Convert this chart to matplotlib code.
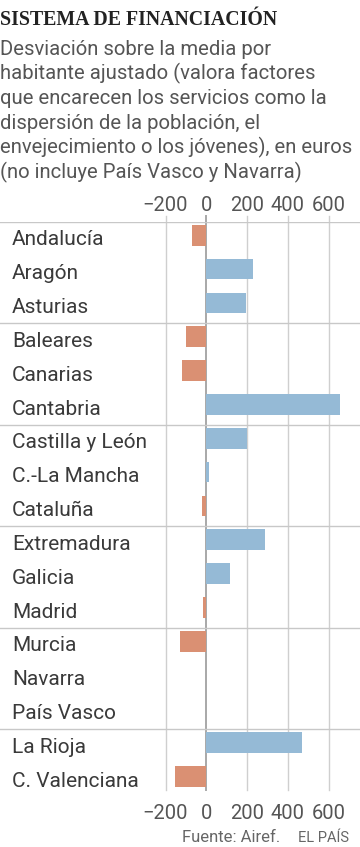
import matplotlib
matplotlib.use("Agg")
import matplotlib.pyplot as plt
import matplotlib.transforms as mtransforms
import numpy as np

regions = ["Andalucía", "Aragón", "Asturias", "Baleares", "Canarias", "Cantabria",
           "Castilla y León", "C.-La Mancha", "Cataluña", "Extremadura", "Galicia",
           "Madrid", "Murcia", "Navarra", "País Vasco", "La Rioja", "C. Valenciana"]
values = [-72, 231, 193, -98, -118, 656, 198, 13, -20, 288, 115, -15, -128,
          np.nan, np.nan, 470, -154]
ticks = [-200, 0, 200, 400, 600]
group_size = 3

title = "SISTEMA DE FINANCIACIÓN"
subtitle = ["Desviación sobre la media por",
            "habitante ajustado (valora factores",
            "que encarecen los servicios como la",
            "dispersión de la población, el",
            "envejecimiento o los jóvenes), en euros",
            "(no incluye País Vasco y Navarra)"]
source = "Fuente: Airef."
brand = "EL PAÍS"

W, H = 360, 847
fig = plt.figure(figsize=(W / 100, H / 100), dpi=100)
fig.patch.set_facecolor("white")

def fy(px):
    return 1 - px / H

ax_top, ax_bot = 221.7, 796.8
ax = fig.add_axes([0, fy(ax_bot), 1, (ax_bot - ax_top) / H])
n = len(regions)
ax.set_xlim(-206.3 / 0.2038, (W - 206.3) / 0.2038)
ax.set_ylim(n, 0)
for s in ax.spines.values():
    s.set_visible(False)

blue = "#95bad6"
orange = "#da9073"
label_font = "Roboto"

# vertical gridlines
gtrans = mtransforms.blended_transform_factory(ax.transData, ax.transAxes)
g0 = (ax_bot - 790) / (ax_bot - ax_top)
g1 = 1 + (ax_top - 216) / (ax_bot - ax_top)
for t in ticks:
    ax.plot([t, t], [g0, g1], transform=gtrans, clip_on=False,
            color="#a8a8a8" if t == 0 else "#cfcfcf",
            lw=1.4 if t == 0 else 1.0, zorder=1)

# group separators
for i in range(0, n, group_size):
    ax.axhline(i, color="#c8c8c8", lw=1.0, zorder=1)

ypos = np.arange(n) + 0.5 - 0.1
vals = np.array(values, dtype=float)
colors = [blue if (not np.isnan(v) and v >= 0) else orange for v in vals]
ax.barh(ypos, np.nan_to_num(vals), height=0.61, color=colors, zorder=2)

ltrans = mtransforms.blended_transform_factory(ax.transAxes, ax.transData)
for i, r in enumerate(regions):
    ax.text(12 / W, i + 0.70, r, transform=ltrans,
            ha="left", va="baseline", fontsize=15, color="#3a3a3a", family=label_font)

ax.set_yticks([])
ax.set_xticks(ticks)
ax.xaxis.set_tick_params(length=0, labeltop=True, labelbottom=True, pad=5,
                         labelsize=14.5, labelcolor="#555555")
for lab in ax.get_xticklabels():
    lab.set_family(label_font)

fig.text(0, fy(25), title, ha="left", va="baseline", fontsize=14.3,
         fontweight="bold", family="Liberation Serif", color="#222222")
for k, line in enumerate(subtitle):
    fig.text(0, fy(55 + 24.6 * k), line, ha="left", va="baseline", fontsize=14.6,
             color="#555555", family=label_font)

fig.text(182 / W, fy(842), source, ha="left", va="baseline", fontsize=12,
         color="#666666", family=label_font)
fig.text(349 / W, fy(842), brand, ha="right", va="baseline", fontsize=10.5,
         color="#666666", family=label_font)

fig.savefig("out.png", dpi=100, facecolor="white")
